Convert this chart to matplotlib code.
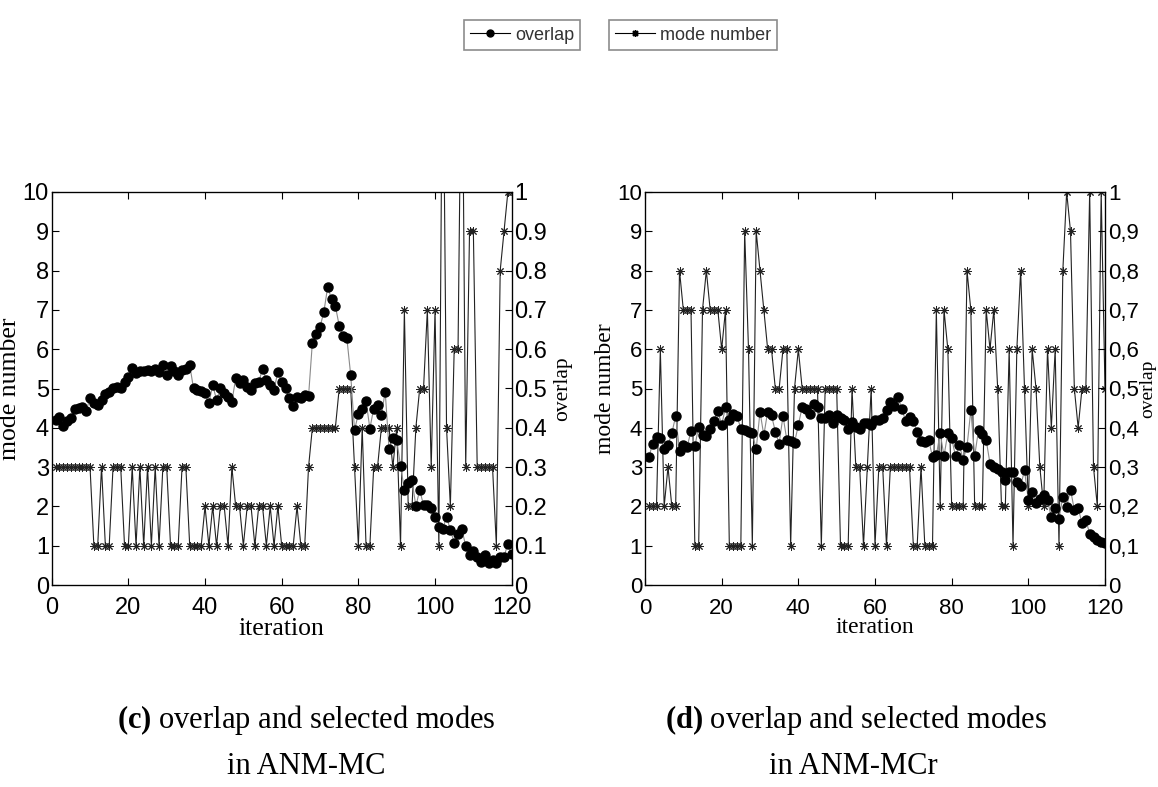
import numpy as np
import matplotlib.pyplot as plt
from matplotlib.lines import Line2D

plt.rcParams['font.family'] = 'Liberation Sans'
plt.rcParams['mathtext.fontset'] = 'custom'
plt.rcParams['mathtext.rm'] = 'Liberation Serif'
plt.rcParams['mathtext.bf'] = 'Liberation Serif:bold'

iters = np.arange(1, 121)

# (c) ANM-MC
mode_mc = [3, 3, 3, 3, 3, 3, 3, 3, 3, 3,
           1, 1, 3, 1, 1, 3, 3, 3, 1, 1,
           3, 1, 3, 1, 3, 1, 3, 1, 3, 3,
           1, 1, 1, 3, 3, 1, 1, 1, 1, 2,
           1, 2, 1, 2, 2, 1, 3, 2, 2, 1,
           2, 2, 1, 2, 2, 1, 2, 1, 2, 1,
           1, 1, 1, 2, 1, 1, 3, 4, 4, 4,
           4, 4, 4, 4, 5, 5, 5, 5, 3, 1,
           4, 1, 1, 3, 3, 4, 4, 4, 3, 4,
           1, 7, 2, 2, 4, 5, 5, 7, 3, 7,
           1, 15, 4, 2, 6, 6, 15, 3, 9, 9,
           3, 3, 3, 3, 3, 1, 8, 9, 10, 10]
overlap_mc = [0.420, 0.428, 0.405, 0.418, 0.424, 0.448, 0.451, 0.454, 0.444, 0.475,
              0.464, 0.458, 0.470, 0.485, 0.492, 0.500, 0.505, 0.500, 0.517, 0.530,
              0.553, 0.540, 0.545, 0.545, 0.547, 0.544, 0.550, 0.543, 0.560, 0.534,
              0.556, 0.545, 0.534, 0.547, 0.550, 0.560, 0.500, 0.497, 0.493, 0.488,
              0.462, 0.509, 0.471, 0.500, 0.488, 0.479, 0.466, 0.526, 0.513, 0.522,
              0.505, 0.496, 0.515, 0.517, 0.549, 0.522, 0.509, 0.496, 0.543, 0.517,
              0.500, 0.475, 0.455, 0.479, 0.475, 0.483, 0.480, 0.617, 0.638, 0.657,
              0.695, 0.759, 0.727, 0.710, 0.660, 0.634, 0.628, 0.534, 0.394, 0.436,
              0.449, 0.469, 0.398, 0.449, 0.458, 0.432, 0.492, 0.347, 0.373, 0.370,
              0.303, 0.243, 0.260, 0.267, 0.200, 0.242, 0.203, 0.203, 0.195, 0.174,
              0.148, 0.142, 0.174, 0.140, 0.108, 0.131, 0.142, 0.099, 0.076, 0.087,
              0.072, 0.059, 0.076, 0.057, 0.064, 0.055, 0.072, 0.072, 0.105, 0.078]

# (d) ANM-MCr
mode_mcr = [2, 2, 2, 6, 2, 3, 2, 2, 8, 7,
            7, 7, 1, 1, 7, 8, 7, 7, 7, 6,
            7, 1, 1, 1, 1, 9, 6, 1, 9, 8,
            7, 6, 6, 5, 5, 6, 6, 1, 5, 6,
            5, 5, 5, 5, 5, 1, 5, 5, 5, 5,
            1, 1, 1, 5, 3, 3, 1, 3, 5, 1,
            3, 3, 1, 3, 3, 3, 3, 3, 3, 1,
            1, 3, 1, 1, 1, 7, 2, 7, 6, 2,
            2, 2, 2, 8, 7, 2, 2, 2, 7, 6,
            7, 5, 2, 2, 6, 1, 6, 8, 5, 2,
            6, 5, 3, 2, 6, 4, 6, 1, 8, 10,
            9, 5, 4, 5, 5, 10, 3, 2, 10, 5]
overlap_mcr = [0.325, 0.360, 0.377, 0.373, 0.345, 0.356, 0.386, 0.430, 0.342, 0.356,
               0.352, 0.392, 0.353, 0.403, 0.381, 0.379, 0.396, 0.418, 0.443, 0.407,
               0.452, 0.419, 0.436, 0.430, 0.398, 0.394, 0.390, 0.388, 0.345, 0.441,
               0.381, 0.441, 0.432, 0.390, 0.360, 0.430, 0.369, 0.367, 0.362, 0.407,
               0.453, 0.447, 0.435, 0.460, 0.452, 0.426, 0.424, 0.432, 0.413, 0.432,
               0.426, 0.421, 0.398, 0.415, 0.403, 0.396, 0.411, 0.413, 0.407, 0.421,
               0.421, 0.424, 0.445, 0.466, 0.455, 0.479, 0.447, 0.418, 0.428, 0.418,
               0.390, 0.367, 0.364, 0.369, 0.326, 0.330, 0.387, 0.328, 0.387, 0.373,
               0.328, 0.356, 0.319, 0.352, 0.445, 0.328, 0.394, 0.384, 0.369, 0.309,
               0.300, 0.294, 0.288, 0.267, 0.288, 0.288, 0.263, 0.252, 0.292, 0.216,
               0.237, 0.208, 0.220, 0.229, 0.216, 0.172, 0.195, 0.169, 0.225, 0.199,
               0.243, 0.191, 0.195, 0.158, 0.165, 0.131, 0.121, 0.114, 0.110, 0.106]

mode_ticks = list(range(0, 11))
ov_ticks = [i / 10 for i in range(11)]
ov_labels_dot = ['0', '0.1', '0.2', '0.3', '0.4', '0.5', '0.6', '0.7', '0.8', '0.9', '1']
ov_labels_comma = ['0', '0,1', '0,2', '0,3', '0,4', '0,5', '0,6', '0,7', '0,8', '0,9', '1']
x_ticks = [0, 20, 40, 60, 80, 100, 120]

W, H = 1158, 787
fig = plt.figure(figsize=(W / 100, H / 100), dpi=100)

star = (8, 2, 0)


def panel(left, mode, overlap, ov_labels, tick_fs, label_fs, xpad, ov_pad):
    ax = fig.add_axes([left / W, 1 - 585 / H, 460 / W, 393 / H])
    ax.plot(iters, mode, color='#222222', lw=0.8, marker=star, ms=6,
            mew=0.7, mec='#222222')
    ax.set_xlim(0, 120)
    ax.set_ylim(0, 10)
    ax.set_xticks(x_ticks)
    ax.set_yticks(mode_ticks)
    ax.tick_params(direction='in', length=5, width=0.8, labelsize=tick_fs,
                   top=True, pad=2)
    ax.tick_params(axis='x', pad=9)
    ax.set_xlabel('iteration', family='Liberation Serif', fontsize=label_fs,
                  labelpad=xpad)
    ax.set_ylabel('mode number', family='Liberation Serif', fontsize=label_fs,
                  labelpad=1)
    for s in ax.spines.values():
        s.set_linewidth(0.9)

    ax2 = ax.twinx()
    ax2.plot(iters, overlap, color='#8a8a8a', lw=0.8, marker='o', ms=6.5,
             mfc='black', mec='black')
    ax2.set_ylim(0, 1)
    ax2.set_yticks(ov_ticks)
    ax2.set_yticklabels(ov_labels)
    ax2.tick_params(direction='in', length=5, width=0.8, labelsize=tick_fs, pad=2)
    ax2.set_ylabel('overlap', family='Liberation Serif', fontsize=label_fs - 3,
                   labelpad=ov_pad)
    return ax, ax2


panel(51.7, mode_mc, overlap_mc, ov_labels_dot, 17, 18.5, -1, 4)
panel(645, mode_mcr, overlap_mcr, ov_labels_comma, 16, 17, -1, 0)

# captions
cap_fs = 22
fig.text(306 / W, 1 - 720 / H, r'$\mathbf{(c)}$ overlap and selected modes',
         family='Liberation Serif', fontsize=cap_fs, ha='center', va='center')
fig.text(306 / W, 1 - 766 / H, 'in ANM-MC',
         family='Liberation Serif', fontsize=cap_fs, ha='center', va='center')
fig.text(856 / W, 1 - 720 / H, r'$\mathbf{(d)}$ overlap and selected modes',
         family='Liberation Serif', fontsize=cap_fs, ha='center', va='center')
fig.text(853 / W, 1 - 766 / H, 'in ANM-MCr',
         family='Liberation Serif', fontsize=cap_fs, ha='center', va='center')

# legends (two separate boxes)
h_ov = Line2D([], [], color='black', lw=0.8, marker='o', ms=5, mfc='black')
h_mode = Line2D([], [], color='black', lw=0.8, marker=star, ms=5)
leg_kw = dict(loc='center', frameon=True, fancybox=False, fontsize=13,
              handlelength=2.2, handletextpad=0.3, borderpad=0.35,
              edgecolor='#8c8c8c', framealpha=1)
leg1 = fig.legend([h_ov], ['overlap'], bbox_to_anchor=(522 / W, 1 - 35 / H), **leg_kw)
leg2 = fig.legend([h_mode], ['mode number'], bbox_to_anchor=(693 / W, 1 - 35 / H), **leg_kw)
for lg in (leg1, leg2):
    lg.get_frame().set_linewidth(1.2)
    for t in lg.get_texts():
        t.set_color('#333333')

fig.savefig('out.png', dpi=100)
